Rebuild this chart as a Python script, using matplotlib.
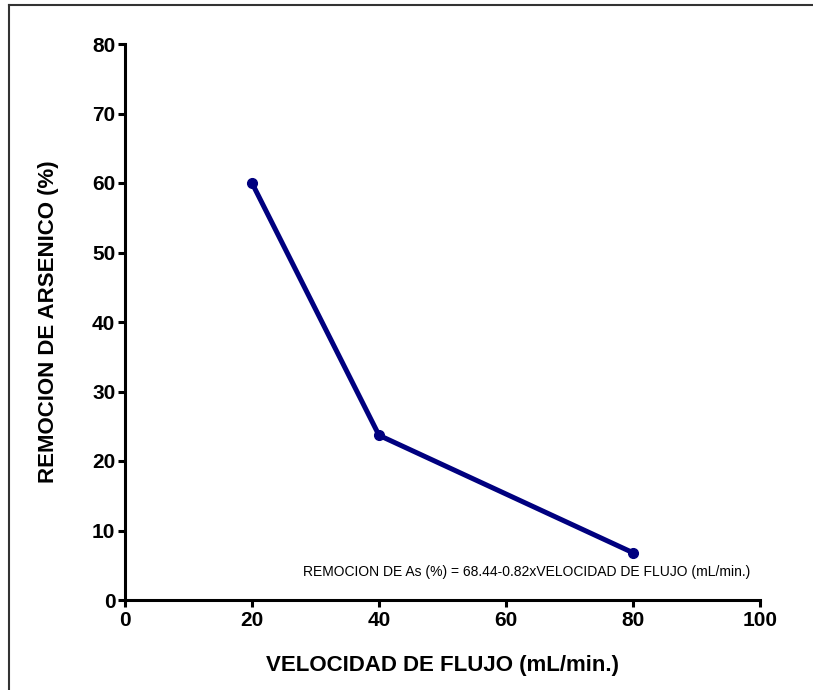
import matplotlib
matplotlib.use("Agg")
import matplotlib.pyplot as plt
from matplotlib.lines import Line2D

flow = [20, 40, 80]
removal = [60.0, 23.7, 6.8]
xticks = [0, 20, 40, 60, 80, 100]
yticks = [0, 10, 20, 30, 40, 50, 60, 70, 80]
equation = "REMOCION DE As (%) = 68.44-0.82xVELOCIDAD DE FLUJO (mL/min.)"

plt.rcParams['font.family'] = ['Liberation Sans', 'DejaVu Sans']

fig = plt.figure(figsize=(8.13, 6.90), dpi=100)
ax = fig.add_axes([125/813, 90/690, 635/813, 556/690])

ax.plot(flow, removal, color='#00007f', lw=3.6, marker='o', ms=7,
        solid_capstyle='round', zorder=3)

ax.set_xlim(0, 100)
ax.set_ylim(0, 80)
ax.set_xticks(xticks)
ax.set_yticks(yticks)
for s in ['top', 'right']:
    ax.spines[s].set_visible(False)
for s in ['left', 'bottom']:
    ax.spines[s].set_linewidth(2.2)
ax.tick_params(direction='out', length=5, width=2.2)
ax.tick_params(axis='y', labelsize=15, pad=2)
ax.tick_params(axis='x', labelsize=15, pad=3)
for lab in ax.get_yticklabels() + ax.get_xticklabels():
    lab.set_fontweight('bold')

ax.set_xlabel("VELOCIDAD DE FLUJO (mL/min.)", fontsize=16, fontweight='bold', labelpad=18)
ax.set_ylabel("REMOCION DE ARSENICO (%)", fontsize=16, fontweight='bold', labelpad=24)

ax.text(0.985, 0.038, equation, transform=ax.transAxes, ha='right', va='bottom',
        fontsize=10)

# figure frame (top and left edges)
fig.add_artist(Line2D([9/813, 1], [1 - 5/690, 1 - 5/690], transform=fig.transFigure,
                      color='#333333', lw=1.5))
fig.add_artist(Line2D([9/813, 9/813], [0, 1 - 5/690], transform=fig.transFigure,
                      color='#333333', lw=1.5))

fig.savefig("out.png", dpi=100)
